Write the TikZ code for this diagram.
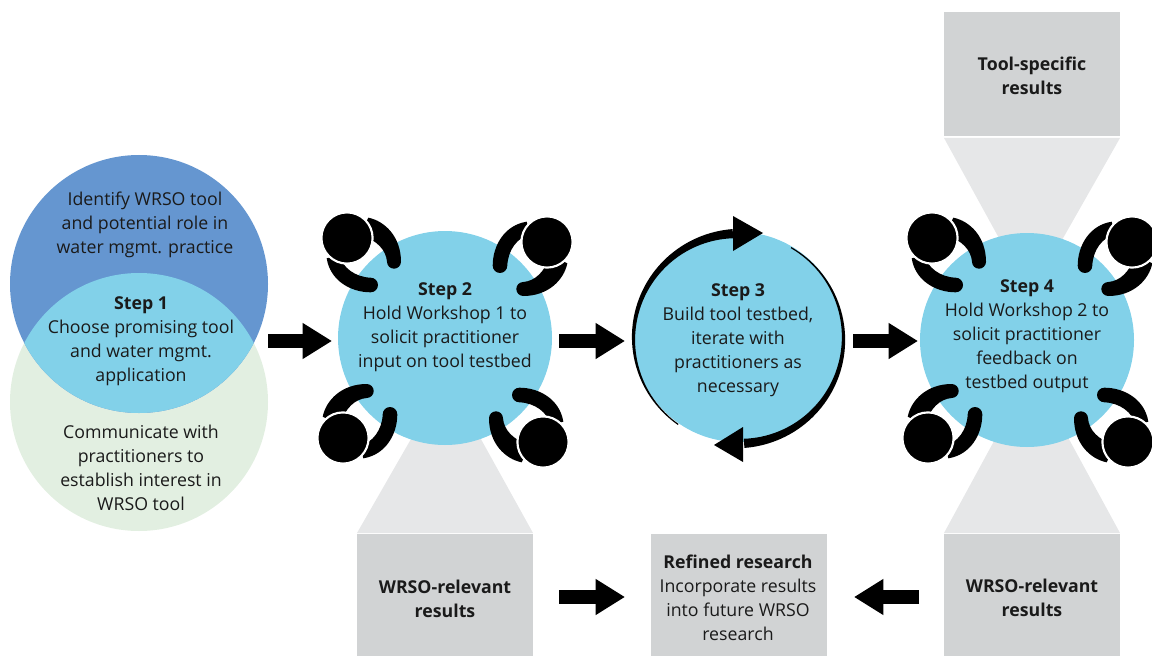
\documentclass[tikz,border=0pt]{standalone}
\usepackage{fontspec}
\setmainfont{Open Sans}
\usetikzlibrary{arrows.meta}
\definecolor{stepblue}{HTML}{82D1E9}
\definecolor{ovalblue}{HTML}{6596D0}
\definecolor{ovalgreen}{HTML}{E2EFE1}
\definecolor{boxgray}{HTML}{D1D3D4}
\definecolor{funnelgray}{HTML}{E6E7E8}
\definecolor{inktext}{HTML}{1A1A1A}
\tikzset{
  x=0.75pt,y=-0.75pt,
  txt/.style={align=center,text=inktext,font=\fontsize{13.3}{18}\selectfont,inner sep=0pt},
  stepdisc/.style={circle,fill=stepblue,minimum size=#1*0.75pt,inner sep=0pt},
  resbox/.style={fill=boxgray,draw=none,minimum width=132pt,inner sep=0pt},
  funnel/.style={fill=funnelgray,draw=none},
  blockarrow/.style={draw=black,line width=10.5pt,-{Triangle[width=25.5pt,length=22pt]},shorten >=0pt},
  person/.pic={
    \fill[black] (-76.7,-122.3) .. controls (-60,-119) and (-44,-103) .. (-44,-78.3)
       arc[start angle=0,end angle=-180,radius=5.25pt]
       .. controls (-59,-90) and (-68,-100) .. (-85,-105) -- cycle;
    \fill[black] (-118.3,-81.7) .. controls (-115,-60) and (-95,-47.7) .. (-74.3,-47.7)
       arc[start angle=-90,end angle=90,radius=5.47pt]
       .. controls (-90,-63) and (-102,-72) .. (-106,-85) -- cycle;
    \filldraw[fill=black,draw=white,line width=1.6pt] (-98,-102) circle[radius=19.2pt];
  },
  group/.pic={
    \pic[rotate=0] {person};
    \pic[rotate=-90] {person};
    \pic[rotate=-180] {person};
    \pic[rotate=-270] {person};
  }
}
\begin{document}
\begin{tikzpicture}
\useasboundingbox (0,0) rectangle (1152,656);
\clip (0,0) rectangle (1152,656);
% funnels
\fill[funnel] (357,533) -- (533,533) -- (477,432) -- (415,432) -- cycle;
\fill[funnel] (944,533) -- (1120,533) -- (1064,430) -- (1000,430) -- cycle;
\fill[funnel] (944,138) -- (1120,138) -- (1062,240) -- (1000,240) -- cycle;
% result boxes
\node[resbox,minimum height=93pt,anchor=north west] (tool) at (944,12) {};
\node[resbox,minimum height=92pt,anchor=north west] (wrsoa) at (357,534) {};
\node[resbox,minimum height=92pt,anchor=north west] (refined) at (651,534) {};
\node[resbox,minimum height=92pt,anchor=north west] (wrsob) at (944,534) {};
% step 1 venn
\fill[ovalgreen] (139,402) circle[radius=96.75pt];
\fill[ovalblue] (139,284) circle[radius=96.75pt];
\begin{scope}
  \clip (139,284) circle[radius=96.75pt];
  \fill[stepblue] (139,402) circle[radius=96.75pt];
\end{scope}
% step discs
\node[stepdisc=214] (s2) at (445,338) {};
\node[stepdisc=210] (s3) at (738.5,337) {};
\node[stepdisc=214] (s4) at (1027,340) {};
% people
\pic at (445,340) {group};
\pic at (1030,340) {group};
% step 3 crescents
\fill[black] plot[domain=0:1,samples=60] ({738.5+(105+0.6+4*\x*sqrt(\x))*cos(235-142*\x)},{338.5-(105+0.6+4*\x*sqrt(\x))*sin(235-142*\x)})
  -- plot[domain=1:0,samples=60] ({738.5+(105-0.6-4*\x*sqrt(\x))*cos(235-142*\x)},{338.5-(105-0.6-4*\x*sqrt(\x))*sin(235-142*\x)}) -- cycle;
\fill[black] plot[domain=0:1,samples=60] ({738.5+(105+0.6+4*\x*sqrt(\x))*cos(60-147*\x)},{338.5-(105+0.6+4*\x*sqrt(\x))*sin(60-147*\x)})
  -- plot[domain=1:0,samples=60] ({738.5+(105-0.6-4*\x*sqrt(\x))*cos(60-147*\x)},{338.5-(105-0.6-4*\x*sqrt(\x))*sin(60-147*\x)}) -- cycle;
\fill[black] (733,216) -- (763,233) -- (733,251) -- cycle;
\fill[black] (743,427) -- (714,445) -- (743,462) -- cycle;
% block arrows
\coordinate (a1s) at (268,341); \coordinate (a1e) at (332,341);
\coordinate (a2s) at (559,341); \coordinate (a2e) at (625,341);
\coordinate (a3s) at (853,341); \coordinate (a3e) at (918,341);
\coordinate (a4s) at (559,597); \coordinate (a4e) at (625,597);
\coordinate (a5s) at (919,597); \coordinate (a5e) at (854,597);
\draw[blockarrow] (a1s) -- (a1e);
\draw[blockarrow] (a2s) -- (a2e);
\draw[blockarrow] (a3s) -- (a3e);
\draw[blockarrow] (a4s) -- (a4e);
\draw[blockarrow] (a5s) -- (a5e);
% texts
\node[txt] (t1a) at (145,225) {Identify WRSO tool\\and potential role in\\water mgmt. practice};
\node[txt] (t1b) at (141,341) {\textbf{Step 1}\\Choose promising tool\\and water mgmt.\\application};
\node[txt] (t1c) at (141,468) {Communicate with\\practitioners to\\establish interest in\\WRSO tool};
\node[txt] (t2) at (445,327) {\textbf{Step 2}\\Hold Workshop 1 to\\solicit practitioner\\input on tool testbed};
\node[txt] (t3) at (738,340) {\textbf{Step 3}\\Build tool testbed,\\iterate with\\practitioners as\\necessary};
\node[txt] (t4) at (1027,336) {\textbf{Step 4}\\Hold Workshop 2 to\\solicit practitioner\\feedback on\\testbed output};
\node[txt] (t5) at (1032,75.5) {\textbf{Tool-specific}\\\textbf{results}};
\node[txt] (t6) at (445,598.5) {\textbf{WRSO-relevant}\\\textbf{results}};
\node[txt] (t7) at (1032,597.5) {\textbf{WRSO-relevant}\\\textbf{results}};
\node[txt] (t8) at (738,598) {\textbf{Refined research}\\Incorporate results\\into future WRSO\\research};
\end{tikzpicture}
\end{document}
